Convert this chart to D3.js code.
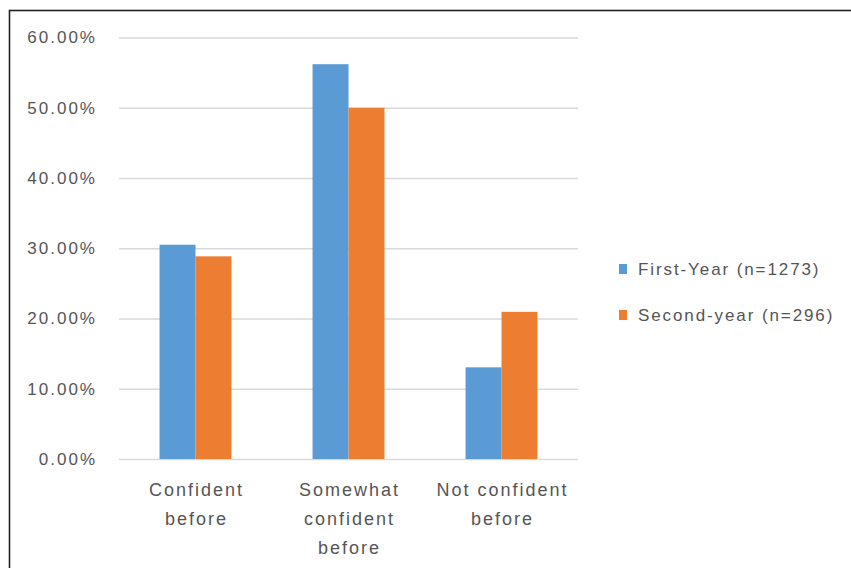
<!DOCTYPE html>
<html><head><meta charset="utf-8">
<script src="https://cdn.jsdelivr.net/npm/d3@7"></script>
<style>html,body{margin:0;padding:0;background:#fff;overflow:hidden}</style>
</head><body>
<svg id="chart" width="851" height="568"></svg>
<script>
const categories = [["Confident", "before"], ["Somewhat", "confident", "before"], ["Not confident", "before"]];
const seriesNames = ["First-Year (n=1273)", "Second-year (n=296)"];
const firstYear = [30.5, 56.2, 13.05];
const secondYear = [28.85, 50.0, 20.95];
const yTicks = [0, 10, 20, 30, 40, 50, 60];
const colors = ["#5b9bd5", "#ed7d31"];

const svg = d3.select("#chart");
const font = "'Liberation Sans', Arial, sans-serif";
const textColor = "#555555";

// frame
svg.append("rect").attr("x", 9.5).attr("y", 10.5).attr("width", 900).attr("height", 700)
  .attr("fill", "none").attr("stroke", "#222").attr("stroke-width", 1.6);

const plotLeft = 119, plotRight = 578, plotTop = 37.5, plotBottom = 459;
const y = d3.scaleLinear().domain([0, 60]).range([plotBottom, plotTop]);
const catIdx = categories.map((d, i) => i);
const x0 = d3.scaleBand().domain(catIdx).range([plotLeft, plotRight]).paddingInner(0.53).paddingOuter(0.265);
const x1 = d3.scaleBand().domain([0, 1]).range([0, x0.bandwidth()]);

// gridlines
const yAxis = d3.axisLeft(y).tickValues(yTicks).tickSize(-(plotRight - plotLeft)).tickFormat(d => d.toFixed(2) + "%");
const ga = svg.append("g").attr("transform", `translate(${plotLeft},0)`).call(yAxis);
ga.select(".domain").remove();
ga.selectAll(".tick line").attr("stroke", "#d9d9d9").attr("stroke-width", 1.6);
ga.selectAll(".tick text").attr("x", -22).attr("fill", textColor)
  .style("font-family", font).style("font-size", "17px").style("letter-spacing", "2px");

const data = catIdx.map(i => [firstYear[i], secondYear[i]]);
const groups = svg.append("g").selectAll("g").data(data).join("g")
  .attr("transform", (d, i) => `translate(${x0(i)},0)`);
groups.selectAll("rect").data(d => d.map((v, j) => ({v, j}))).join("rect")
  .attr("x", d => x1(d.j)).attr("width", x1.bandwidth())
  .attr("y", d => y(d.v)).attr("height", d => y(0) - y(d.v))
  .attr("fill", d => colors[d.j]);

// category labels
const xl = svg.append("g");
categories.forEach((lines, i) => {
  const t = xl.append("text").attr("text-anchor", "middle").attr("fill", textColor)
    .style("font-family", font).style("font-size", "18px").style("letter-spacing", "2px");
  lines.forEach((ln, k) => {
    t.append("tspan").attr("x", x0(i) + x0.bandwidth() / 2 + 1).attr("y", 495.5 + k * 29).text(ln);
  });
});

// legend
const leg = svg.append("g");
seriesNames.forEach((name, j) => {
  const cy = 269 + j * 46;
  leg.append("rect").attr("x", 619).attr("y", cy - 5).attr("width", 8).attr("height", 10).attr("fill", colors[j]);
  leg.append("text").attr("x", 638).attr("y", cy + 6).attr("fill", textColor)
    .style("font-family", font).style("font-size", "17px").style("letter-spacing", "1.9px").text(name);
});
</script>
</body></html>
